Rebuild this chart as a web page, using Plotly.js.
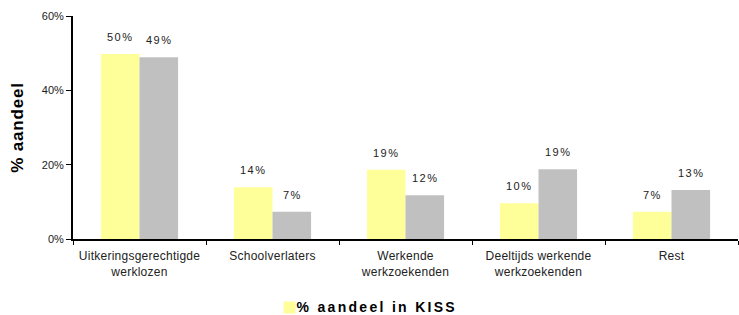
<!DOCTYPE html>
<html>
<head>
<meta charset="utf-8">
<script src="https://cdn.plot.ly/plotly-3.0.1.min.js"></script>
<style>
html,body{margin:0;padding:0;background:#fff;}
#chart{width:739px;height:315px;}
.annotation-text{letter-spacing:1.5px;}
.legendtext{letter-spacing:2.3px;}
.xtick text{letter-spacing:0.25px;}
.ytitle{letter-spacing:0.8px;}
.legend .legendsymbols{transform:translate(13px,1px);}
</style>
</head>
<body>
<div id="chart"></div>
<script>
var categories = ["Uitkeringsgerechtigde<br>werklozen", "Schoolverlaters", "Werkende<br>werkzoekenden", "Deeltijds werkende<br>werkzoekenden", "Rest"];
var kissValues = [49.8, 13.9, 18.6, 9.6, 7.3];
var otherValues = [48.9, 7.3, 11.8, 18.8, 13.2];
var kissName = "% aandeel in KISS";
var otherName = "% aandeel overig";
var yTicks = [0, 20, 40, 60];
var yTickLabels = ["0%", "20%", "40%", "60%"];

var traces = [
  {type: "bar", x: categories, y: kissValues, name: kissName,
   marker: {color: "#FFFF99"}, showlegend: true, hoverinfo: "skip"},
  {type: "bar", x: categories, y: otherValues, name: otherName,
   marker: {color: "#C0C0C0"}, showlegend: false, hoverinfo: "skip"}
];

var annotations = [];
function addLabels(vals, shift) {
  vals.forEach(function (v, i) {
    annotations.push({x: categories[i], y: v, xref: "x", yref: "y",
      text: Math.round(v) + "%", showarrow: false, xshift: shift, yshift: 9,
      yanchor: "bottom", font: {family: "Liberation Sans, Arial", size: 11, color: "#222"}});
  });
}
addLabels(kissValues, -19);
addLabels(otherValues, 20);

var layout = {
  width: 739, height: 315,
  margin: {l: 73, r: 1, t: 16, b: 76, autoexpand: false},
  paper_bgcolor: "#fff", plot_bgcolor: "#fff",
  barmode: "group", bargap: 0.42, bargroupgap: 0,
  font: {family: "Liberation Sans, Arial", size: 11, color: "#222"},
  xaxis: {type: "category", showline: true, linecolor: "#000", linewidth: 2,
    ticks: "outside", tickson: "boundaries", ticklen: 4, tickcolor: "#000", tickwidth: 1,
    showgrid: false, zeroline: false, automargin: false, ticklabelstandoff: 5,
    tickfont: {size: 12, color: "#222"}},
  yaxis: {range: [0, 60], tickvals: yTicks, ticktext: yTickLabels, showline: true,
    linecolor: "#000", linewidth: 2, ticks: "outside", ticklen: 5, tickcolor: "#000",
    showgrid: false, zeroline: false, automargin: false, tickfont: {size: 11, color: "#222"},
    title: {text: "% aandeel", font: {size: 17, weight: "bold", color: "#000"}, standoff: 14}},
  showlegend: true,
  legend: {orientation: "h", x: 0.276, xanchor: "left", y: -0.305, yanchor: "middle",
    font: {size: 14, weight: "bold", color: "#000"}, itemwidth: 30},
  annotations: annotations
};

Plotly.newPlot("chart", traces, layout, {displayModeBar: false, staticPlot: true});
</script>
</body>
</html>
